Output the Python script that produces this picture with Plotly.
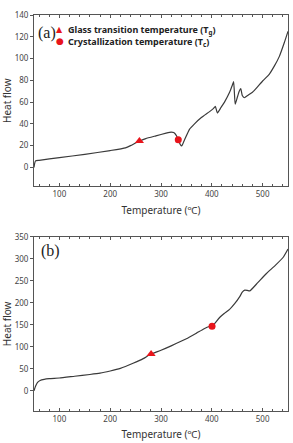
import plotly.graph_objects as go
from plotly.subplots import make_subplots

# ---- Panel (a) data ----
temp_a = [50, 51, 53, 60, 100, 150, 200, 230, 240, 250, 258, 270, 290, 310, 320, 325, 330, 334, 338, 341,
          346, 356, 366, 380, 395, 403, 407, 411, 418, 425, 435, 440, 443, 446, 450, 454, 457, 460, 464,
          472, 480, 490, 500, 513, 523, 533, 543, 550]
heat_a = [0, 3, 6, 6.5, 9, 12, 15.5, 18, 20, 22.5, 24.3, 26.5, 29, 31.5, 32.5, 32, 29.5, 25.5, 21, 19.8,
          25, 35, 40, 46, 51, 54, 56, 50, 55, 60, 69, 75, 78.8, 58, 64, 70, 72.4, 66, 64,
          66.5, 69, 74, 79.4, 85.5, 93, 102, 115, 125]
tg_a_temp = [257.5]
tg_a_heat = [24.3]
tc_a_temp = [334]
tc_a_heat = [25.3]

# ---- Panel (b) data ----
temp_b = [50, 53, 57, 62, 70, 80, 100, 130, 160, 180, 200, 220, 245, 265, 280, 300, 320, 350, 370, 385,
          395, 400, 405, 415, 425, 435, 445, 455, 460, 465, 470, 475, 490, 508, 525, 541, 550]
heat_b = [0, 10, 19, 23.5, 26, 27.5, 29, 33, 37, 40, 45, 51, 62.5, 73, 83.5, 92, 102, 118, 131, 141,
          146, 147, 152, 166, 176, 185, 198, 214, 224, 228.6, 228, 227, 245, 267, 285, 304, 322]
tg_b_temp = [280.5]
tg_b_heat = [83.5]
tc_b_temp = [400.5]
tc_b_heat = [146.7]

x_ticks = [100, 200, 300, 400, 500]
y_ticks_a = [0, 20, 40, 60, 80, 100, 120, 140]
y_ticks_b = [0, 50, 100, 150, 200, 250, 300, 350]

legend_tg = "Glass transition temperature (T<sub>g</sub>)"
legend_tc = "Crystallization temperature (T<sub>c</sub>)"

LINE = "#3a3a3a"
AXC = "#555555"
RED = "#e8141b"

fig = make_subplots(rows=2, cols=1)

for r, (tx, hy, gx, gy, cx, cy) in enumerate([
        (temp_a, heat_a, tg_a_temp, tg_a_heat, tc_a_temp, tc_a_heat),
        (temp_b, heat_b, tg_b_temp, tg_b_heat, tc_b_temp, tc_b_heat)], start=1):
    fig.add_trace(go.Scatter(x=tx, y=hy, mode="lines",
                             line=dict(color=LINE, width=1.2, shape="spline", smoothing=0.4)),
                  row=r, col=1)
    fig.add_trace(go.Scatter(x=gx, y=gy, mode="markers",
                             marker=dict(symbol="triangle-up", size=8, color=RED)), row=r, col=1)
    fig.add_trace(go.Scatter(x=cx, y=cy, mode="markers",
                             marker=dict(symbol="circle", size=7, color=RED)), row=r, col=1)

tickfont = dict(family="Noto Sans", size=8, color="#444")
titlefont = dict(family="Noto Sans", size=10, color="#333")

xcommon = dict(range=[50, 550], tickvals=x_ticks, ticks="inside", ticklen=3, tickcolor=AXC,
               showline=True, linecolor=AXC, linewidth=1, mirror="ticks", showgrid=False,
               zeroline=False, tickfont=tickfont,
               minor=dict(ticks="inside", dtick=20, ticklen=2, tickcolor=AXC),
               title=dict(text="Temperature (℃)", font=titlefont, standoff=8))
ycommon = dict(ticks="outside", ticklen=3, tickcolor=AXC, showline=True, linecolor=AXC,
               linewidth=1, mirror=True, showgrid=False, zeroline=False, tickfont=tickfont,
               title=dict(text="Heat flow", font=titlefont, standoff=4))

fig.update_layout(
    width=293, height=443,
    margin=dict(l=34, r=4, t=15, b=28),
    plot_bgcolor="white", paper_bgcolor="white",
    showlegend=False,
    xaxis=dict(xcommon, domain=[0, 1]),
    xaxis2=dict(xcommon, domain=[0, 1]),
    yaxis=dict(ycommon, domain=[0.567, 1], range=[-17.5, 140], tickvals=y_ticks_a),
    yaxis2=dict(ycommon, domain=[0, 0.44], range=[-46, 350], tickvals=y_ticks_b),
)

legfont = dict(family="Noto Sans", size=9, color="#222", weight="bold")
ann = [
    dict(text="(a)", x=0.05, y=0.896, xref="x domain", yref="y domain",
         font=dict(family="Liberation Serif", size=16, color="#222")),
    dict(text="(b)", x=0.064, y=0.918, xref="x2 domain", yref="y2 domain",
         font=dict(family="Liberation Serif", size=16, color="#222")),
    dict(text="▲", x=0.101, y=0.913, xref="x domain", yref="y domain",
         font=dict(family="DejaVu Sans", size=8, color=RED)),
    dict(text="●", x=0.101, y=0.848, xref="x domain", yref="y domain",
         font=dict(family="DejaVu Sans", size=9, color=RED)),
    dict(text=legend_tg + "<br>" + legend_tc, x=0.125, y=0.879, xref="x domain", yref="y domain",
         xanchor="left", align="left", font=legfont),
]
for a in ann:
    a.setdefault("showarrow", False)
    a.setdefault("xanchor", "center")
    a["yanchor"] = "middle"
fig.update_layout(annotations=ann)

fig.write_html("out.html")
